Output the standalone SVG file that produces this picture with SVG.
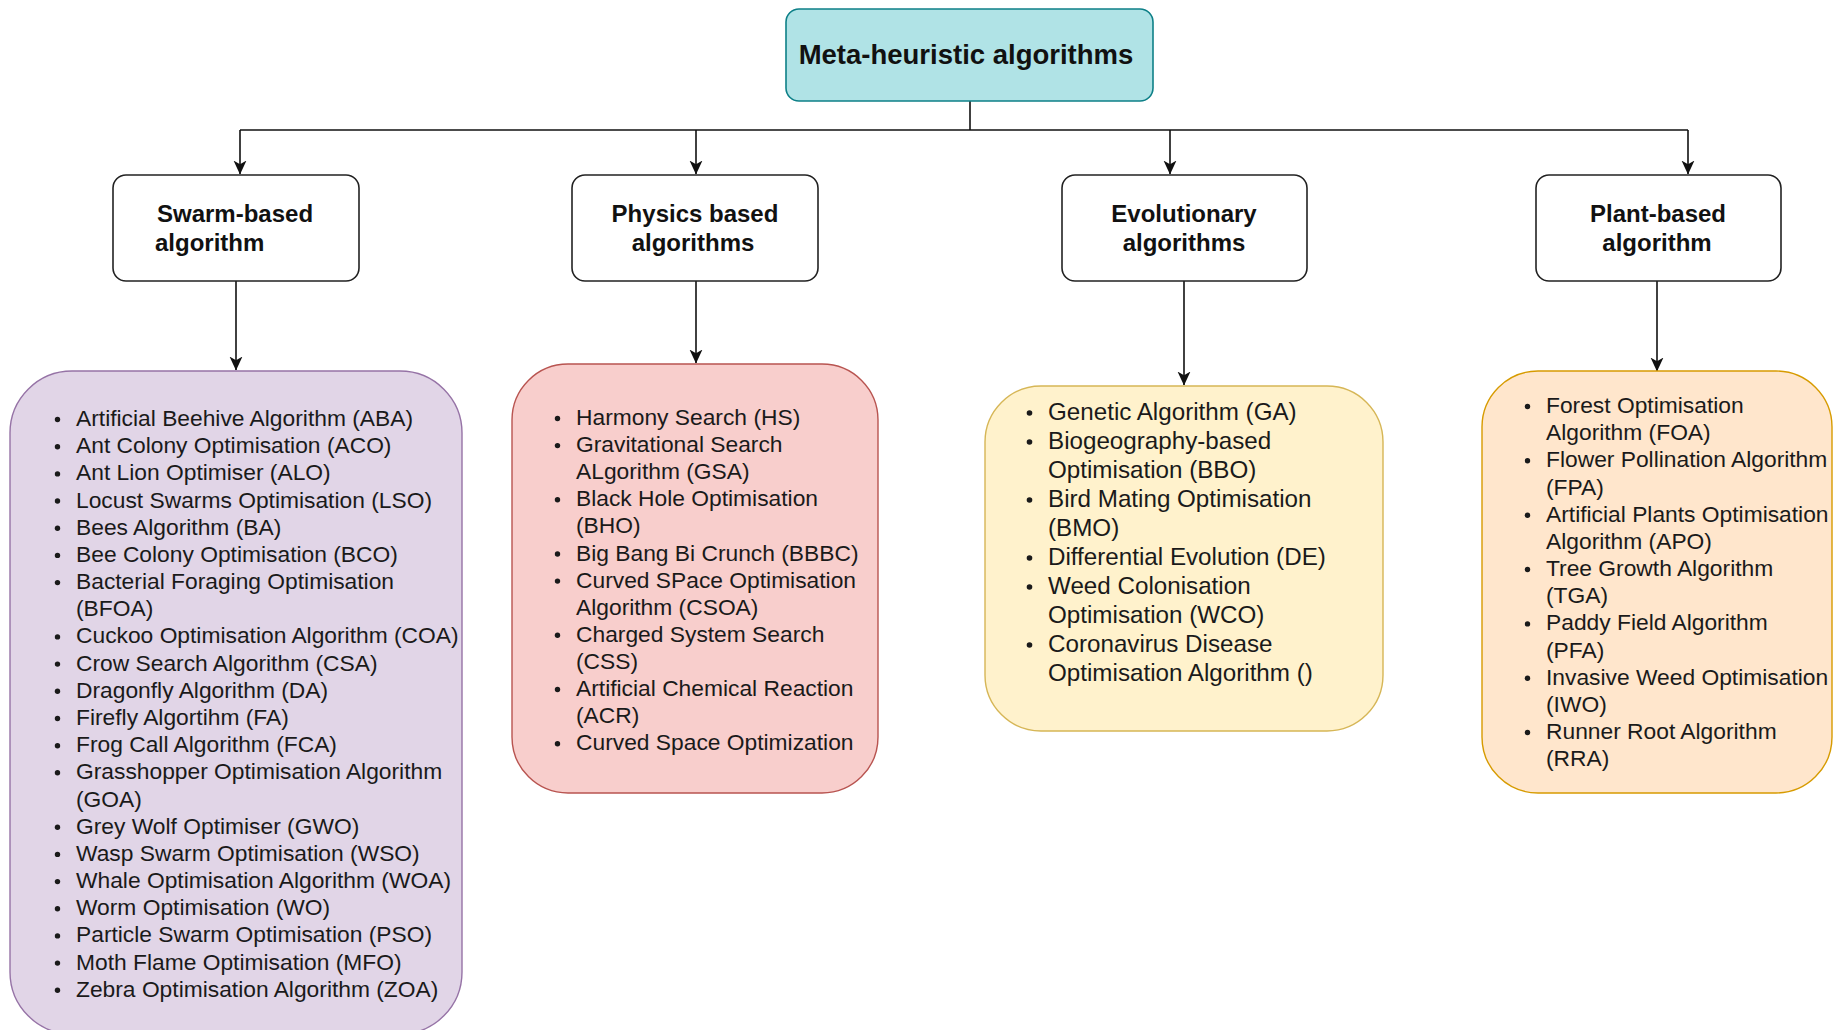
<svg xmlns="http://www.w3.org/2000/svg" width="1834" height="1030" viewBox="0 0 1834 1030">
  <style>
    .title { font-family: "Liberation Sans", Arial, sans-serif; font-weight: bold; font-size: 27.5px; fill: #111; }
    .cat { font-family: "Liberation Sans", Arial, sans-serif; font-weight: bold; font-size: 24px; fill: #111; }
    .item { font-family: "Liberation Sans", Arial, sans-serif; font-size: 22.8px; fill: #1a1a1a; }
    .item-lg { font-family: "Liberation Sans", Arial, sans-serif; font-size: 24.2px; fill: #1a1a1a; }
    .catbox { fill: #ffffff; stroke: #222; stroke-width: 1.6; }
    .edge { fill: none; stroke: #111; stroke-width: 1.6; }
    .dot { fill: #1a1a1a; }
  </style>
  <defs>
    <marker id="arrow" markerUnits="userSpaceOnUse" markerWidth="14" markerHeight="14" viewBox="0 0 13 13" refX="12.5" refY="6.5" orient="auto">
      <path d="M0,0.5 L13,6.5 L0,12.5 L3.5,6.5 Z" fill="#111"/>
    </marker>
  </defs>
  <rect width="1834" height="1030" fill="#ffffff"/>

  <!-- connectors -->
  <g id="connectors">
    <path class="edge" d="M970,101 V130"/>
    <path class="edge" d="M240,130 H1688"/>
    <path class="edge" d="M240,130 V174" marker-end="url(#arrow)"/>
    <path class="edge" d="M696,130 V174" marker-end="url(#arrow)"/>
    <path class="edge" d="M1170,130 V174" marker-end="url(#arrow)"/>
    <path class="edge" d="M1688,130 V174" marker-end="url(#arrow)"/>
    <path class="edge" d="M236,281 V370" marker-end="url(#arrow)"/>
    <path class="edge" d="M696,281 V363" marker-end="url(#arrow)"/>
    <path class="edge" d="M1184,281 V385" marker-end="url(#arrow)"/>
    <path class="edge" d="M1657,281 V371" marker-end="url(#arrow)"/>
  </g>

  <!-- root -->
  <g id="root">
    <rect x="786" y="9" width="367" height="92" rx="13" fill="#b0e3e6" stroke="#0e8088" stroke-width="1.6"/>
    <text class="title" x="966" y="64" text-anchor="middle">Meta-heuristic algorithms</text>
  </g>

  <!-- category boxes -->
  <g id="swarm">
    <rect class="catbox" x="113" y="175" width="246" height="106" rx="13"/>
    <text class="cat" x="157" y="222">Swarm-based</text>
    <text class="cat" x="155" y="251">algorithm</text>
  </g>
  <g id="physics">
    <rect class="catbox" x="572" y="175" width="246" height="106" rx="13"/>
    <text class="cat" x="695" y="222" text-anchor="middle">Physics based</text>
    <text class="cat" x="693" y="251" text-anchor="middle">algorithms</text>
  </g>
  <g id="evolutionary">
    <rect class="catbox" x="1062" y="175" width="245" height="106" rx="13"/>
    <text class="cat" x="1184" y="222" text-anchor="middle">Evolutionary</text>
    <text class="cat" x="1184" y="251" text-anchor="middle">algorithms</text>
  </g>
  <g id="plant">
    <rect class="catbox" x="1536" y="175" width="245" height="106" rx="13"/>
    <text class="cat" x="1658" y="222" text-anchor="middle">Plant-based</text>
    <text class="cat" x="1657" y="251" text-anchor="middle">algorithm</text>
  </g>

  <!-- swarm list -->
  <g id="swarm-list">
    <rect x="10" y="371" width="452" height="663" rx="62" fill="#e1d5e7" stroke="#9673a6" stroke-width="1.4"/>
    <g class="dot">
      <circle cx="57.5" cy="419.5" r="2.7"/><circle cx="57.5" cy="446.7" r="2.7"/><circle cx="57.5" cy="473.9" r="2.7"/>
      <circle cx="57.5" cy="501" r="2.7"/><circle cx="57.5" cy="528.2" r="2.7"/><circle cx="57.5" cy="555.4" r="2.7"/>
      <circle cx="57.5" cy="582.6" r="2.7"/><circle cx="57.5" cy="636.9" r="2.7"/><circle cx="57.5" cy="664.1" r="2.7"/>
      <circle cx="57.5" cy="691.3" r="2.7"/><circle cx="57.5" cy="718.5" r="2.7"/><circle cx="57.5" cy="745.7" r="2.7"/>
      <circle cx="57.5" cy="772.8" r="2.7"/><circle cx="57.5" cy="827.2" r="2.7"/><circle cx="57.5" cy="854.4" r="2.7"/>
      <circle cx="57.5" cy="881.6" r="2.7"/><circle cx="57.5" cy="908.7" r="2.7"/><circle cx="57.5" cy="935.9" r="2.7"/>
      <circle cx="57.5" cy="963.1" r="2.7"/><circle cx="57.5" cy="990.3" r="2.7"/>
    </g>
    <text class="item" x="76" y="426">Artificial Beehive Algorithm (ABA)</text>
    <text class="item" x="76" y="453.2">Ant Colony Optimisation (ACO)</text>
    <text class="item" x="76" y="480.4">Ant Lion Optimiser (ALO)</text>
    <text class="item" x="76" y="507.5">Locust Swarms Optimisation (LSO)</text>
    <text class="item" x="76" y="534.7">Bees Algorithm (BA)</text>
    <text class="item" x="76" y="561.9">Bee Colony Optimisation (BCO)</text>
    <text class="item" x="76" y="589.1">Bacterial Foraging Optimisation</text>
    <text class="item" x="76" y="616.3">(BFOA)</text>
    <text class="item" x="76" y="643.4">Cuckoo Optimisation Algorithm (COA)</text>
    <text class="item" x="76" y="670.6">Crow Search Algorithm (CSA)</text>
    <text class="item" x="76" y="697.8">Dragonfly Algorithm (DA)</text>
    <text class="item" x="76" y="725">Firefly Algortihm (FA)</text>
    <text class="item" x="76" y="752.2">Frog Call Algorithm (FCA)</text>
    <text class="item" x="76" y="779.3">Grasshopper Optimisation Algorithm</text>
    <text class="item" x="76" y="806.5">(GOA)</text>
    <text class="item" x="76" y="833.7">Grey Wolf Optimiser (GWO)</text>
    <text class="item" x="76" y="860.9">Wasp Swarm Optimisation (WSO)</text>
    <text class="item" x="76" y="888.1">Whale Optimisation Algorithm (WOA)</text>
    <text class="item" x="76" y="915.2">Worm Optimisation (WO)</text>
    <text class="item" x="76" y="942.4">Particle Swarm Optimisation (PSO)</text>
    <text class="item" x="76" y="969.6">Moth Flame Optimisation (MFO)</text>
    <text class="item" x="76" y="996.8">Zebra Optimisation Algorithm (ZOA)</text>
  </g>

  <!-- physics list -->
  <g id="physics-list">
    <rect x="512" y="364" width="366" height="429" rx="56" fill="#f8cecc" stroke="#b85450" stroke-width="1.4"/>
    <g class="dot">
      <circle cx="557.5" cy="418.5" r="2.7"/><circle cx="557.5" cy="445.6" r="2.7"/><circle cx="557.5" cy="499.8" r="2.7"/>
      <circle cx="557.5" cy="554" r="2.7"/><circle cx="557.5" cy="581.1" r="2.7"/><circle cx="557.5" cy="635.3" r="2.7"/>
      <circle cx="557.5" cy="689.5" r="2.7"/><circle cx="557.5" cy="743.7" r="2.7"/>
    </g>
    <text class="item" x="576" y="425">Harmony Search (HS)</text>
    <text class="item" x="576" y="452.1">Gravitational Search</text>
    <text class="item" x="576" y="479.2">ALgorithm (GSA)</text>
    <text class="item" x="576" y="506.3">Black Hole Optimisation</text>
    <text class="item" x="576" y="533.4">(BHO)</text>
    <text class="item" x="576" y="560.5">Big Bang Bi Crunch (BBBC)</text>
    <text class="item" x="576" y="587.6">Curved SPace Optimisation</text>
    <text class="item" x="576" y="614.7">Algorithm (CSOA)</text>
    <text class="item" x="576" y="641.8">Charged System Search</text>
    <text class="item" x="576" y="668.9">(CSS)</text>
    <text class="item" x="576" y="696">Artificial Chemical Reaction</text>
    <text class="item" x="576" y="723.1">(ACR)</text>
    <text class="item" x="576" y="750.2">Curved Space Optimization</text>
  </g>

  <!-- evolutionary list -->
  <g id="evolutionary-list">
    <rect x="985" y="386" width="398" height="345" rx="56" fill="#fff2cc" stroke="#d6b656" stroke-width="1.4"/>
    <g class="dot">
      <circle cx="1029.5" cy="413" r="2.8"/><circle cx="1029.5" cy="442" r="2.8"/><circle cx="1029.5" cy="500" r="2.8"/>
      <circle cx="1029.5" cy="558" r="2.8"/><circle cx="1029.5" cy="587" r="2.8"/><circle cx="1029.5" cy="645" r="2.8"/>
    </g>
    <text class="item-lg" x="1048" y="419.5">Genetic Algorithm (GA)</text>
    <text class="item-lg" x="1048" y="448.5">Biogeography-based</text>
    <text class="item-lg" x="1048" y="477.5">Optimisation (BBO)</text>
    <text class="item-lg" x="1048" y="506.5">Bird Mating Optimisation</text>
    <text class="item-lg" x="1048" y="535.5">(BMO)</text>
    <text class="item-lg" x="1048" y="564.5">Differential Evolution (DE)</text>
    <text class="item-lg" x="1048" y="593.5">Weed Colonisation</text>
    <text class="item-lg" x="1048" y="622.5">Optimisation (WCO)</text>
    <text class="item-lg" x="1048" y="651.5">Coronavirus Disease</text>
    <text class="item-lg" x="1048" y="680.5">Optimisation Algorithm ()</text>
  </g>

  <!-- plant list -->
  <g id="plant-list">
    <rect x="1482" y="371" width="350" height="422" rx="56" fill="#ffe6cc" stroke="#d79b00" stroke-width="1.4"/>
    <g class="dot">
      <circle cx="1527.5" cy="406.5" r="2.7"/><circle cx="1527.5" cy="460.8" r="2.7"/><circle cx="1527.5" cy="515.2" r="2.7"/>
      <circle cx="1527.5" cy="569.5" r="2.7"/><circle cx="1527.5" cy="623.9" r="2.7"/><circle cx="1527.5" cy="678.2" r="2.7"/>
      <circle cx="1527.5" cy="732.5" r="2.7"/>
    </g>
    <text class="item" x="1546" y="413">Forest Optimisation</text>
    <text class="item" x="1546" y="440.2">Algorithm (FOA)</text>
    <text class="item" x="1546" y="467.3">Flower Pollination Algorithm</text>
    <text class="item" x="1546" y="494.5">(FPA)</text>
    <text class="item" x="1546" y="521.7">Artificial Plants Optimisation</text>
    <text class="item" x="1546" y="548.9">Algorithm (APO)</text>
    <text class="item" x="1546" y="576">Tree Growth Algorithm</text>
    <text class="item" x="1546" y="603.2">(TGA)</text>
    <text class="item" x="1546" y="630.4">Paddy Field Algorithm</text>
    <text class="item" x="1546" y="657.5">(PFA)</text>
    <text class="item" x="1546" y="684.7">Invasive Weed Optimisation</text>
    <text class="item" x="1546" y="711.9">(IWO)</text>
    <text class="item" x="1546" y="739">Runner Root Algorithm</text>
    <text class="item" x="1546" y="766.2">(RRA)</text>
  </g>
</svg>
